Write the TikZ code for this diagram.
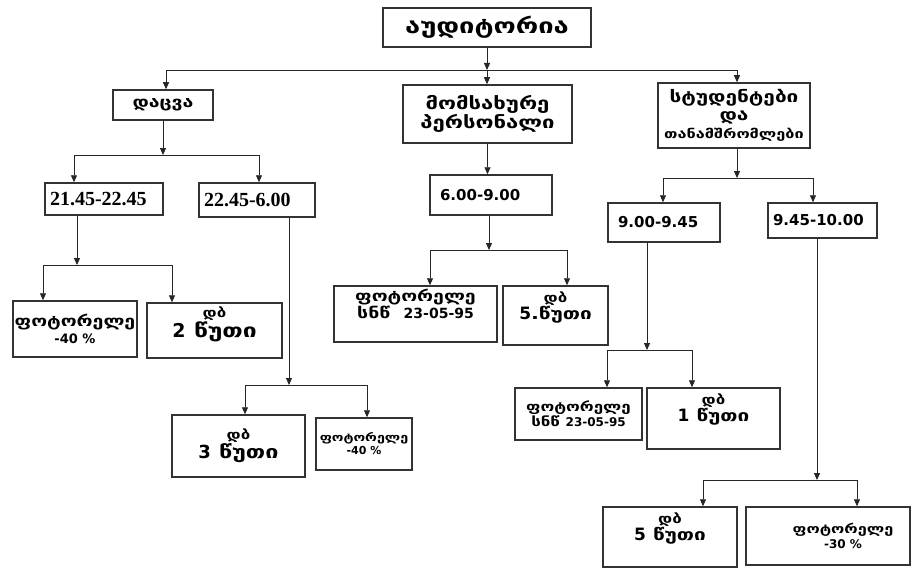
\documentclass[tikz,border=0pt]{standalone}
\usepackage{fontspec}
\setmainfont{Liberation Serif}
\newfontfamily\geo[FakeStretch=1.3]{DejaVu Sans}
\newfontfamily\numf{DejaVu Sans}
\newcommand\gf[2]{\geo\bfseries\fontsize{#1}{#2}\selectfont}
\newcommand\nf[1]{\numf\bfseries\fontsize{#1}{#1}\selectfont}
\usetikzlibrary{arrows.meta}
\begin{document}
\begin{tikzpicture}[x=1pt,y=-1pt,
  box/.style={draw=black!80,line width=1.5pt,fill=white,inner sep=1pt,align=center,font=\gf{13}{15}},
  timebox/.style={box,inner xsep=5pt,align=left},
  link/.style={draw=black!85,line width=0.9pt},
  arr/.style={link,-{Triangle[width=6pt,length=7pt]}}]
\useasboundingbox[fill=white] (0,0) rectangle (912,575);
\node[box,minimum width=208pt,minimum height=39pt,font=\gf{21}{24}] (title) at (487,27.5) {აუდიტორია};
\node[box,minimum width=100pt,minimum height=30pt,font=\gf{15}{18}] (dacva) at (163,105) {დაცვა};
\node[box,minimum width=169pt,minimum height=58pt,font=\gf{17}{19}] (momsax) at (487.5,114) {მომსახურე\\პერსონალი};
\node[box,minimum width=152pt,minimum height=65pt,font=\gf{16}{18}] (stud) at (734,115.5) {სტუდენტები\\და\\{\gf{12.5}{18}თანამშრომლები}};
\node[timebox,text width=108pt,minimum height=32pt,font=\bfseries\fontsize{20}{22}\selectfont] (t1) at (104,199) {21.45-22.45};
\node[timebox,text width=106pt,minimum height=34pt,font=\bfseries\fontsize{20}{22}\selectfont] (t2) at (257,200) {22.45-6.00};
\node[timebox,text width=102pt,inner xsep=10pt,minimum height=40pt,font=\nf{15}] (t3) at (491,195) {6.00-9.00};
\node[timebox,text width=92pt,inner xsep=10pt,minimum height=39pt,font=\nf{15}] (t4) at (664,222.5) {9.00-9.45};
\node[timebox,text width=99pt,minimum height=35pt,font=\nf{15}] (t5) at (822.5,220.5) {9.45-10.00};
\node[box,minimum width=124pt,minimum height=56pt,font=\gf{15}{17}] (a1) at (75,329) {ფოტორელე\\{\nf{13}-40 \%}\hspace{28pt}};
\node[box,minimum width=135pt,minimum height=55pt] (a2) at (214.5,330.5) {დბ\\{\gf{19}{19}{\nf{19}2} წუთი}\\[2pt]};
\node[box,minimum width=133pt,minimum height=62pt] (b1) at (238.5,446) {დბ\\{\gf{18}{18}{\nf{18}3} წუთი}};
\node[box,minimum width=96pt,minimum height=52pt,font=\gf{11}{13}] (b2) at (364,444) {ფოტორელე\\{\nf{11}-40 \%}};
\node[box,minimum width=163pt,minimum height=56pt,font=\gf{15}{17}] (c1) at (415.5,314) {ფოტორელე\\სნწ\ \ {\nf{14}23-05-95}\\[4pt]};
\node[box,minimum width=105pt,minimum height=59pt] (c2) at (555.5,315.5) {დბ\\{\gf{16}{16}{\nf{17}5}.წუთი}\\[4pt]};
\node[box,minimum width=127pt,minimum height=52pt,font=\gf{13}{15}] (d1) at (578.5,414) {ფოტორელე\\სნწ\ {\nf{12}23-05-95}};
\node[box,minimum width=133pt,minimum height=61pt] (d2) at (713.5,418.5) {დბ\\{\gf{16}{16}{\nf{17}1} წუთი}\\[6pt]};
\node[box,minimum width=134pt,minimum height=60pt] (e1) at (670,537) {დბ\\{\gf{16}{16}{\nf{17}5} წუთი}\\[6pt]};
\node[box,minimum width=164pt,minimum height=58pt,font=\gf{12.5}{15}] (e2) at (828,536) {\hspace{30pt}ფოტორელე\\\hspace{30pt}{\nf{12}-30 \%}};
\foreach \p/\dx/\jy/\lx/\rx/\cl/\cr in {
  title/487/70/166/737/dacva/stud,
  dacva/163/155/74/259/t1/t2,
  stud/737/178/663/813/t4/t5,
  t1/77/265/43/172/a1/a2,
  t2/289/385/245/367/b1/b2,
  t3/489/250/430/567/c1/c2,
  t4/647/350/607/692/d1/d2,
  t5/817/480/703/857/e1/e2}{
  \coordinate (jd) at (\dx,\jy);
  \coordinate (jl) at (\lx,\jy);
  \coordinate (jr) at (\rx,\jy);
  \draw[arr] (jd |- \p.south) -- (jd);
  \draw[link] (jl) -- (jr);
  \draw[arr] (jl) -- (jl |- \cl.north);
  \draw[arr] (jr) -- (jr |- \cr.north);
}
\coordinate (jm) at (487,70);
\draw[arr] (jm) -- (jm |- momsax.north);
\draw[arr] (momsax.south) -- (momsax.south |- t3.north);
\end{tikzpicture}
\end{document}
